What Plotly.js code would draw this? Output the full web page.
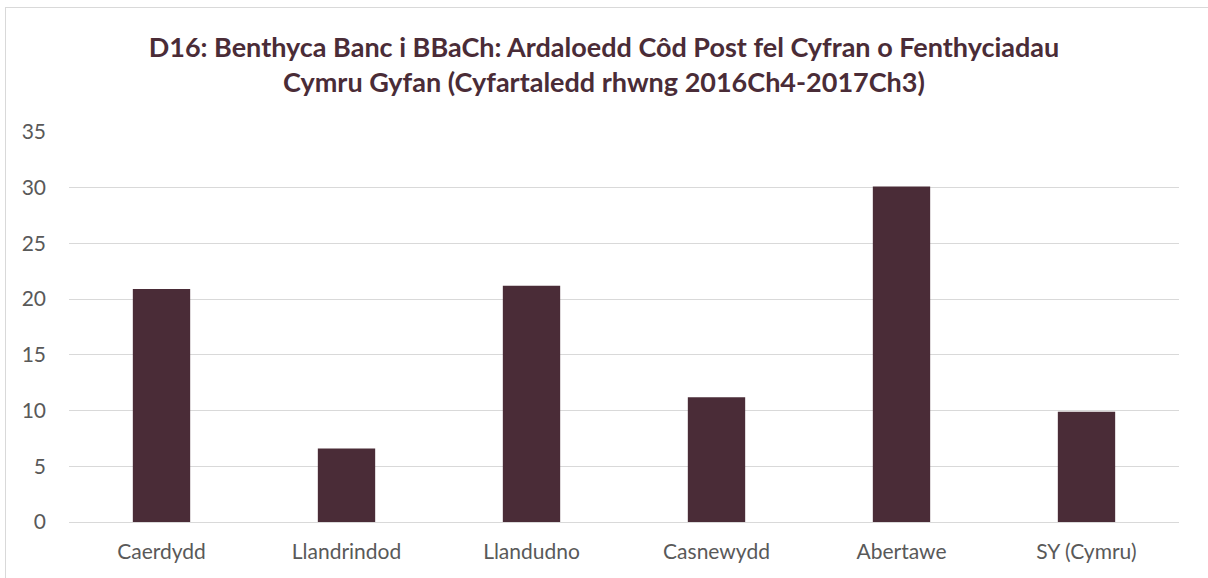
<!DOCTYPE html>
<html>
<head>
<meta charset="utf-8">
<script src="https://cdn.plot.ly/plotly-3.0.1.min.js"></script>
<style>
  body { margin: 0; overflow: hidden; background: #fff; }
  #plot { width: 1208px; height: 578px; }
  #frame { position: absolute; left: 5px; top: 7px; width: 1210px; height: 580px;
           border: 1px solid #D9D9D9; pointer-events: none; }
</style>
</head>
<body>
<div id="plot"></div>
<div id="frame"></div>
<script>
// postcode areas and their share of all-Wales lending (%)
var areas = ["Caerdydd", "Llandrindod", "Llandudno", "Casnewydd", "Abertawe", "SY (Cymru)"];
var shares = [20.9, 6.6, 21.2, 11.2, 30.1, 9.9];
var yTicks = [0, 5, 10, 15, 20, 25, 30, 35];

var trace1 = {
  x: areas,
  y: shares,
  type: "bar",
  marker: {
    color: "#4A2C37",
    line: { width: 0 }
  },
  hoverinfo: "x+y"
};

var layout = {
  width: 1208,
  height: 578,
  margin: { l: 69, r: 29, t: 132, b: 56 },
  paper_bgcolor: "#fff",
  plot_bgcolor: "#fff",
  font: { family: "Lato, 'DejaVu Sans', sans-serif", color: "#595959", size: 21 },
  title: {
    text: "D16: Benthyca Banc i BBaCh: Ardaloedd Côd Post fel Cyfran o Fenthyciadau<br>Cymru Gyfan (Cyfartaledd rhwng 2016Ch4-2017Ch3)",
    font: { family: "Lato, sans-serif", size: 27, color: "#4A2C37", weight: "bold" },
    x: 0.5,
    xanchor: "center",
    y: 0.902,
    yref: "container",
    yanchor: "middle"
  },
  bargap: 0.69,
  showlegend: false,
  xaxis: {
    showgrid: false,
    showline: false,
    ticks: "",
    ticklabelstandoff: 15,
    tickfont: { size: 21, color: "#595959" }
  },
  yaxis: {
    range: [0, 35],
    tickvals: yTicks,
    showgrid: true,
    gridcolor: "#D9D9D9",
    gridwidth: 1,
    zeroline: true,
    zerolinecolor: "#D9D9D9",
    zerolinewidth: 1,
    ticks: "",
    ticklabelstandoff: 22,
    tickfont: { size: 21, color: "#595959" }
  }
};

Plotly.newPlot("plot", [trace1], layout, { displayModeBar: false, staticPlot: true });
</script>
</body>
</html>
